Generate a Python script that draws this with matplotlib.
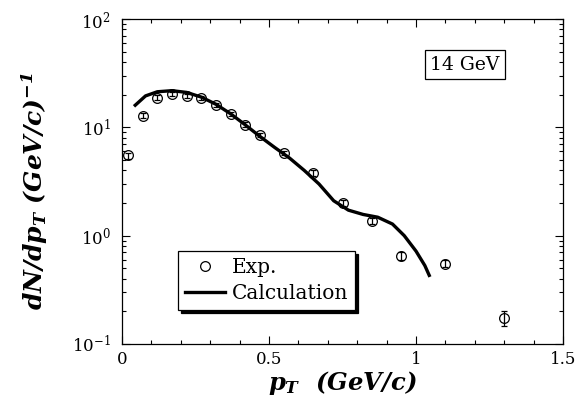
import numpy as np
import matplotlib.pyplot as plt
from matplotlib.lines import Line2D
from matplotlib.ticker import MultipleLocator, LogLocator, NullFormatter

plt.rcParams['font.family'] = ['DejaVu Serif']
plt.rcParams['mathtext.fontset'] = 'custom'
plt.rcParams['mathtext.rm'] = 'DejaVu Serif:bold:italic'
plt.rcParams['mathtext.it'] = 'DejaVu Serif:bold:italic'
plt.rcParams['mathtext.bf'] = 'DejaVu Serif:bold:italic'

# measured spectrum, 14 GeV
pt_exp = [0.02, 0.07, 0.12, 0.17, 0.22, 0.27, 0.32, 0.37, 0.42, 0.47, 0.55, 0.65, 0.75, 0.85, 0.95, 1.10, 1.30]
dn_exp = [5.5, 12.8, 18.8, 20.5, 19.5, 18.7, 16.0, 13.4, 10.6, 8.5, 5.8, 3.8, 2.0, 1.36, 0.65, 0.55, 0.173]
dn_err = [0.35, 0.7, 0.9, 0.9, 0.9, 0.8, 0.7, 0.6, 0.5, 0.4, 0.3, 0.25, 0.13, 0.09, 0.05, 0.04, 0.027]

# model curve
pt_calc = [0.045, 0.08, 0.12, 0.17, 0.22, 0.27, 0.32, 0.37, 0.42, 0.47, 0.52, 0.57, 0.62,
           0.67, 0.72, 0.77, 0.82, 0.87, 0.92, 0.96, 1.00, 1.03, 1.045]
dn_calc = [16.0, 19.5, 21.3, 21.8, 21.0, 19.0, 16.3, 13.3, 10.5, 8.2, 6.5, 5.2, 4.0,
           3.0, 2.1, 1.72, 1.57, 1.48, 1.28, 1.0, 0.72, 0.53, 0.43]

fig = plt.figure(figsize=(5.88, 4.0), dpi=100)
ax = fig.add_axes([0.2075, 0.14, 0.75, 0.8125])

ax.errorbar(pt_exp, dn_exp, yerr=dn_err, fmt='o', mfc='none', mec='black', ecolor='black',
            ms=7, mew=0.9, elinewidth=0.9, capsize=2.5, capthick=0.9)
calc_line, = ax.plot(pt_calc, dn_calc, color='black', lw=2.4)

ax.set_yscale('log')
ax.set_xlim(0, 1.5)
ax.set_ylim(0.1, 100)
ax.xaxis.set_minor_locator(MultipleLocator(0.1))
ax.set_xticks([0, 0.5, 1, 1.5])
ax.set_xticklabels(['0', '0.5', '1', '1.5'])
ax.yaxis.set_minor_locator(LogLocator(base=10, subs=np.arange(2, 10), numticks=20))
ax.yaxis.set_minor_formatter(NullFormatter())
ax.set_yticks([0.1, 1, 10, 100])
ax.set_yticklabels([r'$\mathregular{10^{-1}}$', r'$\mathregular{10^{0}}$',
                    r'$\mathregular{10^{1}}$', r'$\mathregular{10^{2}}$'])

ax.tick_params(which='both', direction='in', top=True, right=True, labelsize=12, width=0.8)
ax.tick_params(axis='x', pad=5)
ax.tick_params(axis='y', pad=8)
ax.tick_params(which='major', length=6)
ax.tick_params(which='minor', length=3)
for s in ax.spines.values():
    s.set_linewidth(0.9)

ax.set_xlabel(r'$p_T\ \ (GeV/c)$', fontsize=17.5)
ax.xaxis.set_label_coords(0.50, -0.078)
ax.set_ylabel(r'$dN/dp_T\ (GeV/c)^{-1}$', fontsize=18)
ax.yaxis.set_label_coords(-0.163, 0.47)

ax.text(0.778, 0.86, '14 GeV', transform=ax.transAxes, fontsize=13.5, ha='center', va='center',
        bbox=dict(boxstyle='square,pad=0.3', fc='white', ec='black', lw=0.9))

exp_handle = Line2D([], [], ls='none', marker='o', mfc='none', mec='black', ms=7, mew=0.9)
leg = ax.legend([exp_handle, calc_line], ['Exp.', 'Calculation'],
                loc='lower left', bbox_to_anchor=(0.127, 0.105), fontsize=14.5, frameon=True,
                fancybox=False, shadow={'color': 'black', 'alpha': 1, 'ox': 2.2, 'oy': -2.2},
                edgecolor='black', handlelength=2.0, handletextpad=0.3,
                borderpad=0.35, borderaxespad=0, labelspacing=0.35)
leg.get_frame().set_linewidth(0.9)

fig.savefig('out.png', dpi=100)
